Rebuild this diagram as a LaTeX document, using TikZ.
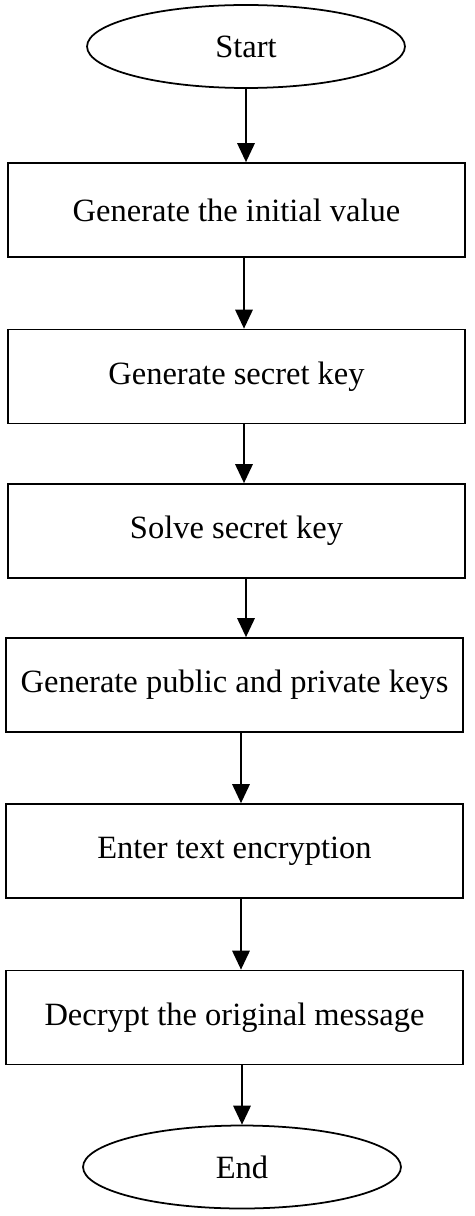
\documentclass[tikz,border=0pt]{standalone}
\usepackage{fontspec}
\setmainfont{Liberation Serif}
\usetikzlibrary{shapes.geometric,arrows.meta}

\begin{document}
\begin{tikzpicture}[x=0.02cm,y=-0.02cm,
		stepbox/.style={draw,line width=1pt,minimum width=9.14cm,minimum height=1.88cm,inner sep=0pt,font=\fontsize{18.5}{22}\selectfont},
		termbox/.style={draw,ellipse,line width=1pt,minimum width=6.36cm,minimum height=1.66cm,inner sep=0pt,font=\fontsize{18.5}{22}\selectfont},
		flow/.style={line width=1pt,-{Triangle[length=3.8mm,width=3.5mm]}}]
			\useasboundingbox (0,0) rectangle (474,1216);
			\node[termbox] (start) at (246,46.5) {Start};
			\node[stepbox] (init) at (236.5,210) {Generate the initial value};
			\node[stepbox] (gen) at (236.5,376.5) {Generate secret key};
			\node[stepbox] (solve) at (236.5,531) {Solve secret key};
			\node[stepbox] (keys) at (234.5,685) {Generate public and private keys};
			\node[stepbox] (enc) at (234.5,851) {Enter text encryption};
			\node[stepbox] (dec) at (234.5,1017.5) {Decrypt the original message};
			\node[termbox] (end) at (242,1167) {End};
			
			\draw[flow] (start) -- (start |- init.north);
			\draw[flow] ([xshift=0.15cm]init.south) -- ([xshift=0.15cm]init.south |- gen.north);
			\draw[flow] ([xshift=0.15cm]gen.south) -- ([xshift=0.15cm]gen.south |- solve.north);
			\draw[flow] ([xshift=0.19cm]solve.south) -- ([xshift=0.19cm]solve.south |- keys.north);
			\draw[flow] ([xshift=0.13cm]keys.south) -- ([xshift=0.13cm]keys.south |- enc.north);
			\draw[flow] ([xshift=0.13cm]enc.south) -- ([xshift=0.13cm]enc.south |- dec.north);
			\draw[flow] (dec.south -| end) -- (end);
		\end{tikzpicture}
\end{document}
